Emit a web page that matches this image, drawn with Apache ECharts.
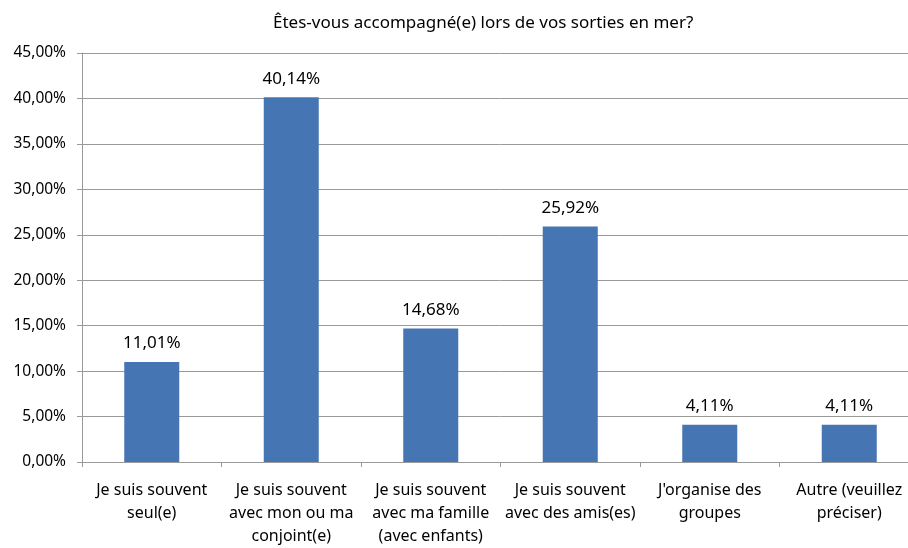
<!DOCTYPE html>
<html>
<head>
<meta charset="utf-8">
<script src="https://cdn.jsdelivr.net/npm/echarts@6/dist/echarts.min.js"></script>
<style>
html,body{margin:0;padding:0;background:#fff;overflow:hidden;}
#main{width:940px;height:548px;}
</style>
</head>
<body>
<div id="main"></div>
<script>
var categories = [
	"Je suis souvent\nseul(e)",
	"Je suis souvent\navec mon ou ma\nconjoint(e)",
	"Je suis souvent\navec ma famille\n(avec enfants)",
	"Je suis souvent\navec des amis(es)",
	"J'organise des\ngroupes",
	"Autre (veuillez\npréciser)"
];
var values = [11.01, 40.14, 14.68, 25.92, 4.11, 4.11];
var yTicks = [0, 5, 10, 15, 20, 25, 30, 35, 40, 45];

function pct(v){
	return v.toFixed(2).replace('.', ',') + '%';
}

// the div is a bit wider than the window: the plot runs past the right edge, like the original
var myChart = echarts.init(document.getElementById('main'));
var font = 'Noto Sans';
var option = {
	animation: false,
	title: {
		text: 'Êtes-vous accompagné(e) lors de vos sorties en mer?',
		left: 268,
		top: 10,
		textStyle: {fontFamily: font, fontSize: 17, fontWeight: 'normal', color: '#000'}
	},
	grid: {left: 82, right: 21, top: 53, bottom: 85},
	xAxis: {
		type: 'category',
		data: categories,
		axisLine: {lineStyle: {color: '#9a9a9a', width: 1}},
		axisTick: {show: true, length: 5, lineStyle: {color: '#9a9a9a'}},
		axisLabel: {fontFamily: font, fontSize: 16, color: '#000', lineHeight: 23, margin: 17, interval: 0}
	},
	yAxis: {
		type: 'value',
		min: yTicks[0],
		max: yTicks[yTicks.length - 1],
		interval: 5,
		axisLine: {show: true, lineStyle: {color: '#9a9a9a', width: 1}},
		axisTick: {show: true, length: 5, lineStyle: {color: '#9a9a9a'}},
		splitLine: {lineStyle: {color: '#9a9a9a', width: 1}},
		axisLabel: {fontFamily: font, fontSize: 15.5, color: '#000', margin: 16, formatter: pct}
	},
	series: [{
		type: 'bar',
		data: values,
		barWidth: 55,
		itemStyle: {color: '#4675B3'},
		label: {
			show: true,
			position: 'top',
			distance: 10,
			fontFamily: font,
			fontSize: 17,
			color: '#000',
			formatter: function(p){ return pct(p.value); }
		}
	}]
};
myChart.setOption(option);
</script>
</body>
</html>
